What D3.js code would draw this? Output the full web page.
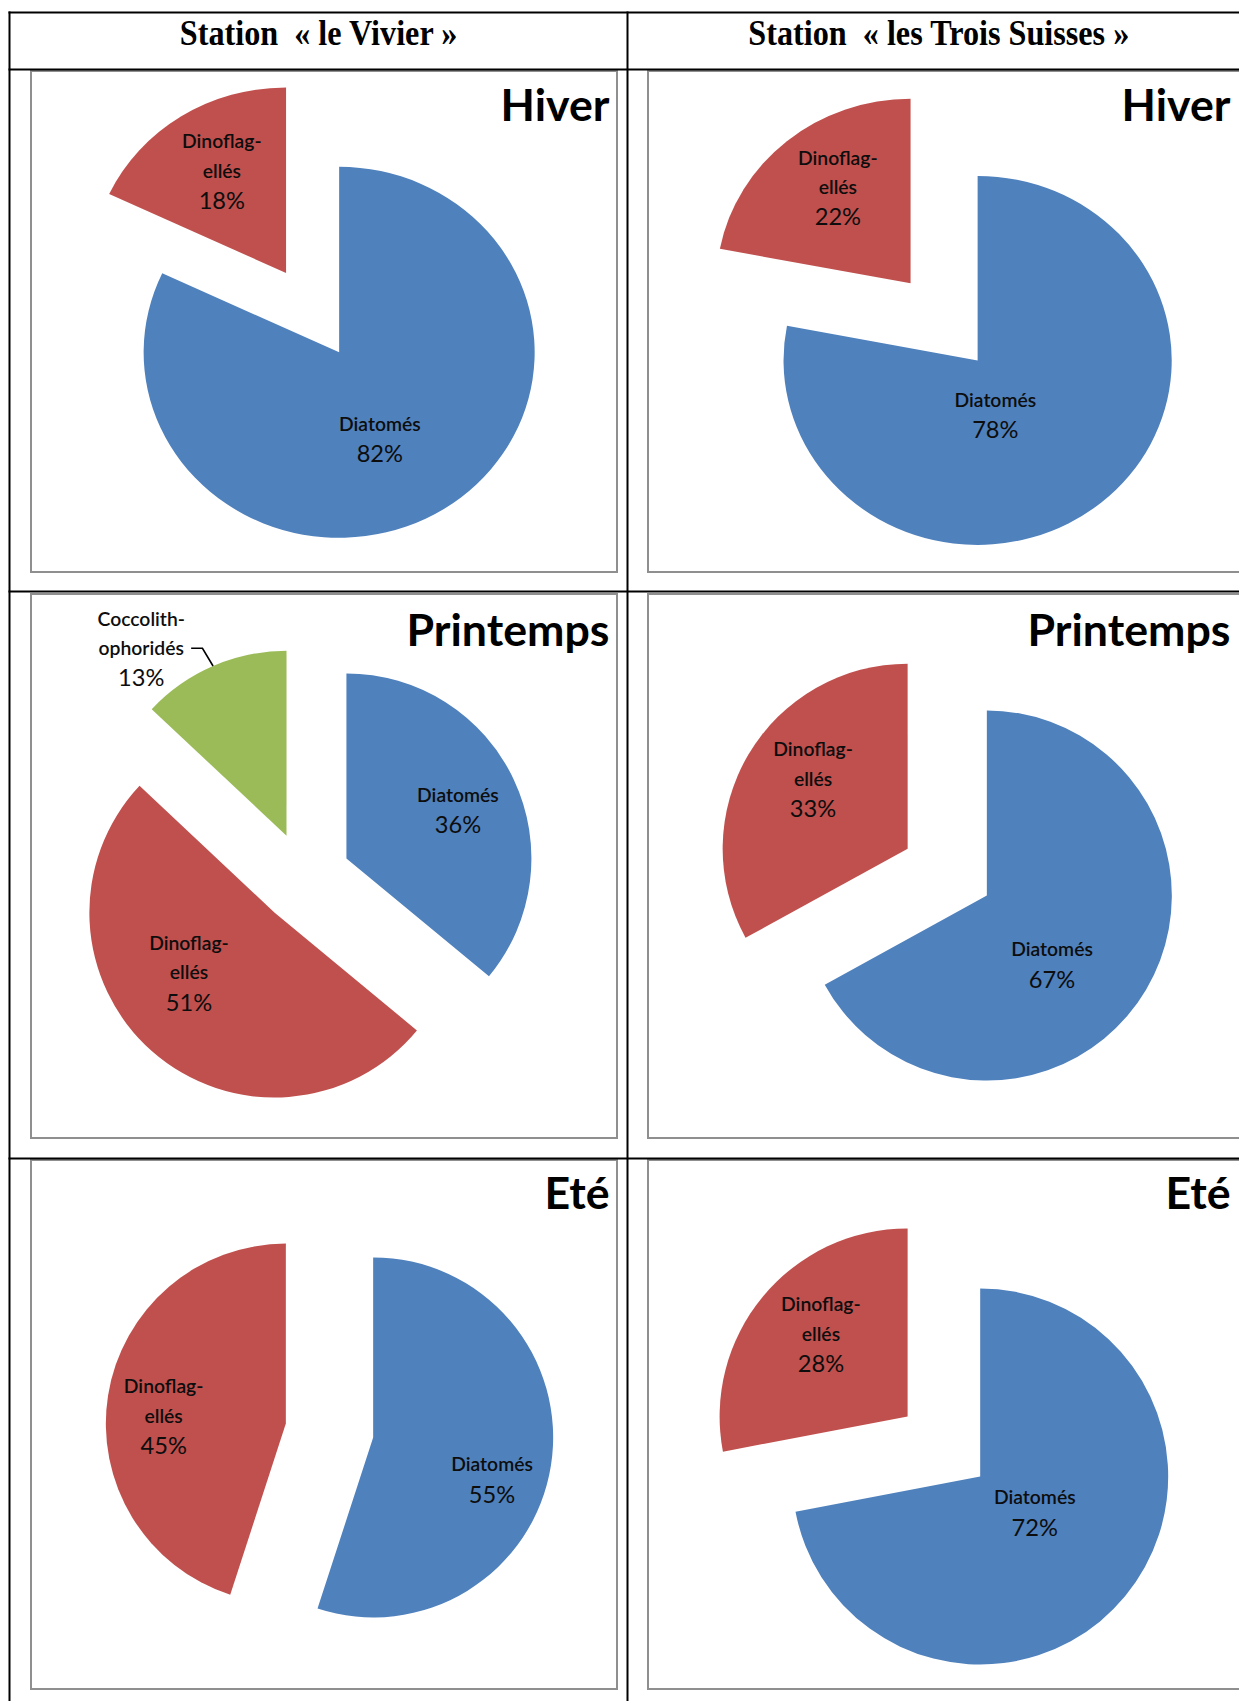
<!DOCTYPE html>
<html><head><meta charset="utf-8">
<script src="https://cdn.jsdelivr.net/npm/d3@7"></script>
<style>body{margin:0;background:#fff} svg{display:block}</style>
</head><body>
<svg id="c" width="1239" height="1701"></svg>
<script>
// ---------- DATA ----------
const stations = ["Station  « le Vivier »", "Station  « les Trois Suisses »"];
const seasons = ["Hiver", "Printemps", "Eté"];
const categories = ["Diatomés", "Dinoflagellés", "Coccolithophoridés"];
const categoryLines = [["Diatomés"], ["Dinoflag-", "ellés"], ["Coccolith-", "ophoridés"]];
const colors = ["#4F81BD", "#C0504D", "#9BBB59"];
// percentages per season (Hiver, Printemps, Eté), in category order
const vivierValues = [[82, 18, 0], [36, 51, 13], [55, 45, 0]];
const troisSuissesValues = [[78, 22, 0], [67, 33, 0], [72, 28, 0]];
const stationValues = [vivierValues, troisSuissesValues];

// ---------- LAYOUT ----------
const tableGeo = {left: 9.5, top: 12.5, headerBottom: 69.5, colDiv: 627.5, rowDivs: [591.5, 1158.5], right: 1262, bottom: 1715};
const frameCols = [[31, 617], [648, 1268]];
const frameRows = [[71, 572], [594, 1138], [1160, 1689]];
const headerCenters = [318.5, 938.8];
const headerBaseline = 44.5;
const titleRight = [609.5, 1230.5];
const titleBaseline = [120.5, 645.8, 1209];
// pie layout: centre, radius, horizontal stretch, explosion, label offsets (from slice apex) per category
const pieLayout = [
  [ {cx: 312.6, cy: 312.65, r: 185.5, sx: 1.054, e: 47,   lab: [[40.7, 71.7], [-64.2, -131.6]]},
    {cx: 304.8, cy: 878,    r: 185,   sx: 1,     e: 46,   lab: [[111.5, -63.6], [-85.4, 30.3], [-145.3, -217.2]], outside: [false, false, true]},
    {cx: 329.5, cy: 1430.5, r: 180,   sx: 1,     e: 44.2, lab: [[118.9, 27.1], [-122.2, -37.2]]} ],
  [ {cx: 944.1, cy: 321.85, r: 184.5, sx: 1.052, e: 50,   lab: [[17.7, 39.3], [-72.7, -125.7]]},
    {cx: 947.25, cy: 872.1, r: 185,   sx: 1,     e: 46,   lab: [[65.2, 53.9], [-94.6, -99.4]]},
    {cx: 943.9, cy: 1446.5, r: 188,   sx: 1,     e: 47.1, lab: [[54.6, 20.9], [-86.7, -112.2]]} ]
];
const lineGap = 29.7;

const svg = d3.select("#c");
svg.append("rect").attr("width", 1239).attr("height", 1701).attr("fill", "#fff");

// font fitting helper
function fitSize(txt, family, weight, target) {
  const t = svg.append("text").attr("font-family", family).attr("font-weight", weight)
    .attr("font-size", 100).style("white-space", "pre").text(txt);
  const w = t.node().getComputedTextLength();
  t.remove();
  return 100 * target / w;
}
const sansFam = "Lato, 'Open Sans', sans-serif";
const serifFam = "'Liberation Serif', 'Times New Roman', serif";
const nameWeight = 600;
const nameSize = fitSize("Dinoflag-", sansFam, nameWeight, 79.6);
const pctSize = fitSize("18%", sansFam, "normal", 46.4);
const titleSize = fitSize("Printemps", sansFam, "bold", 203);
const headerSize = fitSize(stations[0], serifFam, "bold", 277.6);

// ---------- chart frames ----------
frameRows.forEach(rw => frameCols.forEach(cl => {
  svg.append("rect").attr("x", cl[0]).attr("y", rw[0]).attr("width", cl[1] - cl[0]).attr("height", rw[1] - rw[0])
    .attr("fill", "#fff").attr("stroke", "#8f8f8f").attr("stroke-width", 2);
}));

// ---------- table lines ----------
const tl = svg.append("g").attr("stroke", "#000").attr("stroke-width", 2);
[tableGeo.top, tableGeo.headerBottom, ...tableGeo.rowDivs].forEach(y =>
  tl.append("line").attr("x1", tableGeo.left - 1).attr("x2", tableGeo.right).attr("y1", y).attr("y2", y));
[tableGeo.left, tableGeo.colDiv].forEach(x =>
  tl.append("line").attr("x1", x).attr("x2", x).attr("y1", tableGeo.top - 1).attr("y2", tableGeo.bottom));

// headers (slightly taller, as in the reference rendering)
stations.forEach((s, i) => {
  svg.append("text")
    .attr("transform", `translate(${headerCenters[i]},${headerBaseline}) scale(1,1.08)`)
    .attr("text-anchor", "middle")
    .attr("font-family", serifFam).attr("font-weight", "bold").attr("font-size", headerSize)
    .style("white-space", "pre").attr("fill", "#000").text(s);
});

// ---------- pies ----------
const pie = d3.pie().sort(null).value(d => d.v).startAngle(0).endAngle(2 * Math.PI);
const arc = d3.arc().innerRadius(0);

stationValues.forEach((vals, si) => {
  vals.forEach((seasonVals, ri) => {
    const L = pieLayout[si][ri];
    const g = svg.append("g");
    const data = categories.map((c, i) => ({i, name: c, v: seasonVals[i]})).filter(d => d.v > 0);
    const arcs = pie(data);
    arcs.forEach(a => {
      const mid = (a.startAngle + a.endAngle) / 2;
      const ax = L.cx + L.e * L.sx * Math.sin(mid);
      const ay = L.cy - L.e * Math.cos(mid);
      g.append("path")
        .attr("transform", `translate(${ax},${ay}) scale(${L.sx},1)`)
        .attr("d", arc.outerRadius(L.r)(a))
        .attr("fill", colors[a.data.i]);
      a.ax = ax; a.ay = ay; a.mid = mid;
    });
    arcs.forEach(a => {
      const [dx, dy] = L.lab[a.data.i];
      const lx = a.ax + dx, ly0 = a.ay + dy;
      const lines = categoryLines[a.data.i];
      lines.forEach((ln, k) => {
        g.append("text").attr("x", lx).attr("y", ly0 + k * lineGap + 0.358 * nameSize)
          .attr("text-anchor", "middle").attr("font-family", sansFam).attr("font-weight", nameWeight)
          .attr("font-size", nameSize).attr("fill", "#0d0d0d").text(ln);
      });
      g.append("text").attr("x", lx).attr("y", ly0 + lines.length * lineGap + 0.358 * pctSize)
        .attr("text-anchor", "middle").attr("font-family", sansFam).attr("font-weight", "normal")
        .attr("font-size", pctSize).attr("fill", "#0d0d0d").text(a.data.v + "%");
      if (L.outside && L.outside[a.data.i]) {
        const px = a.ax + L.r * L.sx * Math.sin(a.mid);
        const py = a.ay - L.r * Math.cos(a.mid);
        const yLine = ly0 + (lines.length - 1) * lineGap;
        const ex = px - 10.6;
        g.append("path").attr("d", `M${ex - 11.3},${yLine}H${ex}L${px},${py}`)
          .attr("fill", "none").attr("stroke", "#000").attr("stroke-width", 1.6);
      }
    });
    // season title
    svg.append("text").attr("x", titleRight[si]).attr("y", titleBaseline[ri]).attr("text-anchor", "end")
      .attr("font-family", sansFam).attr("font-weight", "bold").attr("font-size", titleSize)
      .attr("fill", "#000").text(seasons[ri]);
  });
});
</script>
</body></html>
